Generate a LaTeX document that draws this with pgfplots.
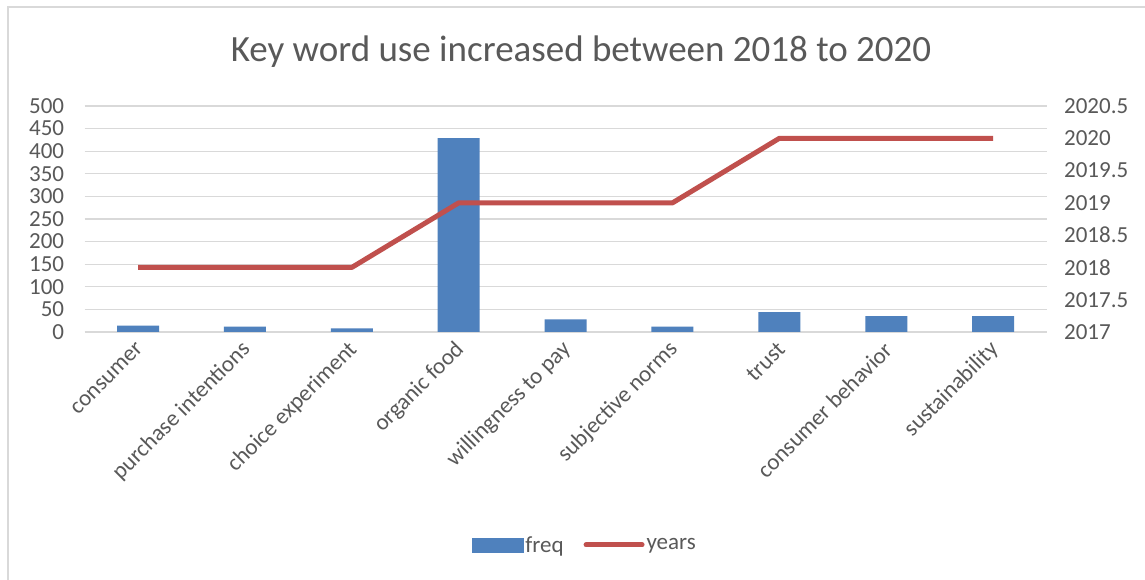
\documentclass[border=0pt]{standalone}
\usepackage{fontspec}
\setmainfont{Carlito}
\usepackage{pgfplots}
\pgfplotsset{compat=1.18}
\definecolor{barblue}{HTML}{4F81BD}
\definecolor{linered}{HTML}{C0504D}
\definecolor{txt}{HTML}{595959}
\definecolor{gridc}{HTML}{D9D9D9}
\begin{document}
\begin{tikzpicture}[x=1pt,y=1pt]
\useasboundingbox (0,0) rectangle (1145,580);
\fill[white] (0,0) rectangle (1145,580);
\draw[gridc, line width=1.3pt] (8,0) -- (8,573) -- (1145,573);
\node[text=txt, font=\fontsize{37}{42}\selectfont] at (581,528) {Key word use increased between 2018 to 2020};
\begin{axis}[at={(84.6pt,248pt)}, anchor=south west, scale only axis,
  width=962pt, height=226pt,
  xmin=-0.5, xmax=8.5, ymin=0, ymax=500,
  ytick={0,50,100,150,200,250,300,350,400,450,500},
  xtick={0,1,2,3,4,5,6,7,8},
  xticklabels={consumer, purchase intentions, choice experiment, organic food, willingness to pay, subjective norms, trust, consumer behavior, sustainability},
  axis line style={draw=none}, major tick length=0pt,
  ymajorgrids, grid style={gridc, line width=1.3pt},
  /pgf/number format/assume math mode=true,
  yticklabel style={font=\fontsize{23}{27}\selectfont, text=txt},
  yticklabel shift=17pt,
  xticklabel style={rotate=45, anchor=east, font=\fontsize{23}{27}\selectfont, text=txt, xshift=6pt},
  xticklabel shift=16pt,
  clip=false]
\addplot[ybar, bar width=42pt, fill=barblue, draw=none] coordinates {
 (0,14) (1,12) (2,8) (3,429) (4,28) (5,12) (6,44) (7,35) (8,35)};
\end{axis}
\begin{axis}[at={(84.6pt,248pt)}, anchor=south west, scale only axis,
  width=962pt, height=226pt,
  xmin=-0.5, xmax=8.5, ymin=2017, ymax=2020.5,
  ytick={2017,2017.5,2018,2018.5,2019,2019.5,2020,2020.5},
  axis y line*=right, hide x axis,
  axis line style={draw=none}, major tick length=0pt,
  /pgf/number format/assume math mode=true,
  /pgf/number format/1000 sep={},
  yticklabel style={font=\fontsize{23}{27}\selectfont, text=txt, /pgf/number format/fixed},
  yticklabel shift=14pt,
  legend style={at={(0.52,-0.942)}, anchor=center, draw=none, fill=none,
    legend columns=2, font=\fontsize{23}{27}\selectfont, text=txt,
    /tikz/every even column/.append style={column sep=18pt}},
  clip=false]
\addlegendimage{legend image code/.code={\fill[barblue] (0pt,-7pt) rectangle (51pt,7pt);}}
\addlegendentry{freq}
\addplot[linered, line width=5pt, line join=round, mark=none,
  legend image code/.code={\draw[linered, line width=5pt, line cap=round] (0pt,0pt) -- (56pt,0pt);}]
 coordinates {(0,2018) (1,2018) (2,2018) (3,2019) (4,2019) (5,2019) (6,2020) (7,2020) (8,2020)};
\addlegendentry{years}
\end{axis}
\end{tikzpicture}
\end{document}
